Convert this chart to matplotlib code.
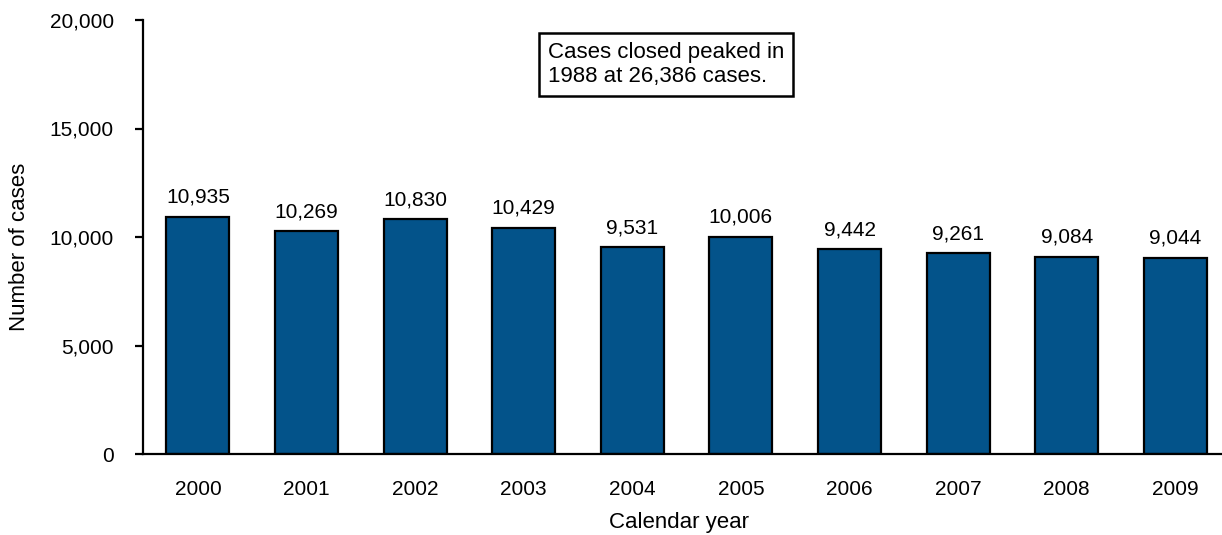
import numpy as np
import matplotlib.pyplot as plt

plt.rcParams['font.family'] = ['Liberation Sans', 'DejaVu Sans']

years = ["2000", "2001", "2002", "2003", "2004", "2005", "2006", "2007", "2008", "2009"]
cases = [10935, 10269, 10830, 10429, 9531, 10006, 9442, 9261, 9084, 9044]
note = "Cases closed peaked in\n1988 at 26,386 cases."

fig = plt.figure(figsize=(12.22, 5.35), dpi=100)
ax = fig.add_axes([143 / 1222, 81 / 535, 1 - 143 / 1222, 434 / 535])

x = np.arange(len(years))
ax.bar(x, cases, width=0.58, color="#03538A", edgecolor="black", linewidth=1.6)

# data labels above bars
for xi, v in zip(x, cases):
    ax.annotate(f"{v:,}", (xi, v), xytext=(0, 10), textcoords="offset points",
                ha="center", va="baseline", fontsize=15)

ax.set_xlim(-0.506, 9.43)
ax.set_ylim(0, 20000)
ax.set_yticks([0, 5000, 10000, 15000, 20000])
ax.set_yticklabels(["0", "5,000", "10,000", "15,000", "20,000"])
ax.set_xticks(x)
ax.set_xticklabels(years)
ax.tick_params(axis="x", length=0, pad=19, labelsize=15)
ax.tick_params(axis="y", length=6, width=1.6, pad=15, labelsize=15)

for s in ["top", "right"]:
    ax.spines[s].set_visible(False)
ax.spines["left"].set_linewidth(1.6)
ax.spines["bottom"].set_linewidth(1.6)

ax.set_xlabel("Calendar year", fontsize=16)
ax.xaxis.set_label_coords((679 - 143) / 1079, (454 - 512) / 434)
ax.set_ylabel("Number of cases", fontsize=16, va="center")
ax.yaxis.set_label_coords((19 - 143) / 1079, (454 - 247) / 434)

ax.text(4.31, 17950, note, ha="center", va="center", multialignment="left",
        fontsize=16, linespacing=1.2,
        bbox=dict(boxstyle="square,pad=0.38", facecolor="white", edgecolor="black", linewidth=1.8))

fig.savefig("out.png", dpi=100)
